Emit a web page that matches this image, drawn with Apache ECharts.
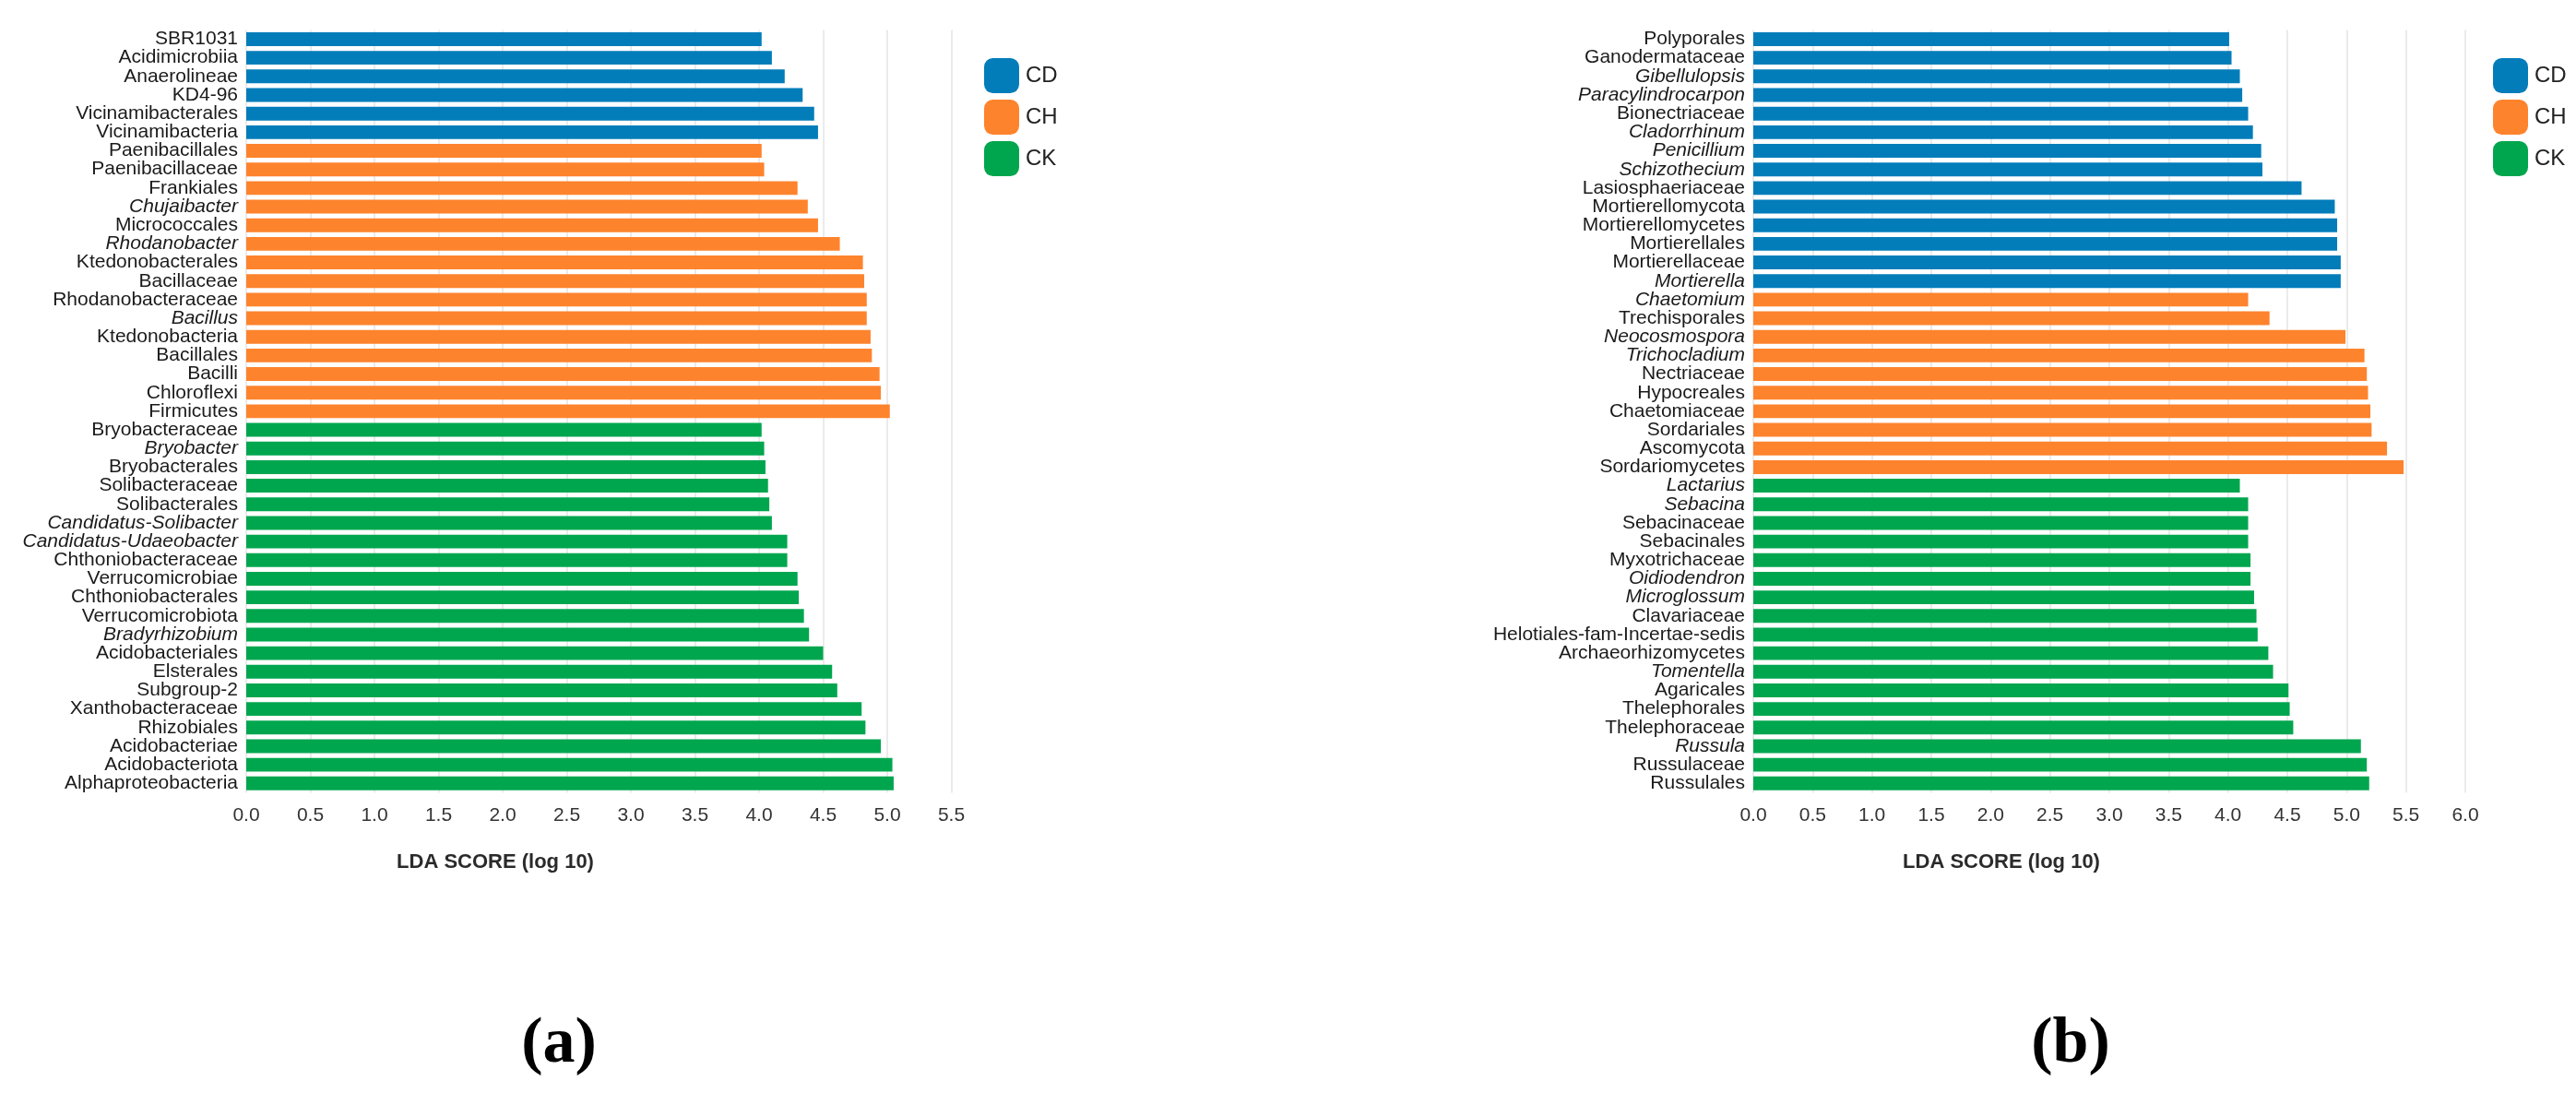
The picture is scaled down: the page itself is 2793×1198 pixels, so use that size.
<!DOCTYPE html>
<html>
<head>
<meta charset="utf-8">
<script src="https://cdn.jsdelivr.net/npm/echarts@6/dist/echarts.min.js"></script>
<style>
html,body{margin:0;padding:0;background:#fff;}
#chart{width:2793px;height:1198px;}
</style>
</head>
<body>
<div id="chart"></div>
<script>
// ---------- Panel (a) data ----------
const cdNamesA = ['SBR1031','Acidimicrobiia','Anaerolineae','KD4-96','Vicinamibacterales','Vicinamibacteria'];
const cdValsA  = [4.02,4.10,4.20,4.34,4.43,4.46];
const chNamesA = ['Paenibacillales','Paenibacillaceae','Frankiales','Chujaibacter','Micrococcales','Rhodanobacter','Ktedonobacterales','Bacillaceae','Rhodanobacteraceae','Bacillus','Ktedonobacteria','Bacillales','Bacilli','Chloroflexi','Firmicutes'];
const chValsA  = [4.02,4.04,4.30,4.38,4.46,4.63,4.81,4.82,4.84,4.84,4.87,4.88,4.94,4.95,5.02];
const ckNamesA = ['Bryobacteraceae','Bryobacter','Bryobacterales','Solibacteraceae','Solibacterales','Candidatus-Solibacter','Candidatus-Udaeobacter','Chthoniobacteraceae','Verrucomicrobiae','Chthoniobacterales','Verrucomicrobiota','Bradyrhizobium','Acidobacteriales','Elsterales','Subgroup-2','Xanthobacteraceae','Rhizobiales','Acidobacteriae','Acidobacteriota','Alphaproteobacteria'];
const ckValsA  = [4.02,4.04,4.05,4.07,4.08,4.10,4.22,4.22,4.30,4.31,4.35,4.39,4.50,4.57,4.61,4.80,4.83,4.95,5.04,5.05];
const italicA  = ['Chujaibacter','Rhodanobacter','Bacillus','Bryobacter','Candidatus-Solibacter','Candidatus-Udaeobacter','Bradyrhizobium'];

// ---------- Panel (b) data ----------
const cdNamesB = ['Polyporales','Ganodermataceae','Gibellulopsis','Paracylindrocarpon','Bionectriaceae','Cladorrhinum','Penicillium','Schizothecium','Lasiosphaeriaceae','Mortierellomycota','Mortierellomycetes','Mortierellales','Mortierellaceae','Mortierella'];
const cdValsB  = [4.01,4.03,4.10,4.12,4.17,4.21,4.28,4.29,4.62,4.90,4.92,4.92,4.95,4.95];
const chNamesB = ['Chaetomium','Trechisporales','Neocosmospora','Trichocladium','Nectriaceae','Hypocreales','Chaetomiaceae','Sordariales','Ascomycota','Sordariomycetes'];
const chValsB  = [4.17,4.35,4.99,5.15,5.17,5.18,5.20,5.21,5.34,5.48];
const ckNamesB = ['Lactarius','Sebacina','Sebacinaceae','Sebacinales','Myxotrichaceae','Oidiodendron','Microglossum','Clavariaceae','Helotiales-fam-Incertae-sedis','Archaeorhizomycetes','Tomentella','Agaricales','Thelephorales','Thelephoraceae','Russula','Russulaceae','Russulales'];
const ckValsB  = [4.10,4.17,4.17,4.17,4.19,4.19,4.22,4.24,4.25,4.34,4.38,4.51,4.52,4.55,5.12,5.17,5.19];
const italicB  = ['Gibellulopsis','Paracylindrocarpon','Cladorrhinum','Penicillium','Schizothecium','Mortierella','Chaetomium','Neocosmospora','Trichocladium','Lactarius','Sebacina','Oidiodendron','Microglossum','Tomentella','Russula'];

const groupNames = ['CD','CH','CK'];
const ticksA = [0,0.5,1,1.5,2,2.5,3,3.5,4,4.5,5,5.5];
const ticksB = [0,0.5,1,1.5,2,2.5,3,3.5,4,4.5,5,5.5,6];
const axisTitle = 'LDA SCORE (log 10)';
const panelLabels = ['(a)','(b)'];

const colors = {CD:'#037dba', CH:'#fe832d', CK:'#00a64e'};

function buildPanel(names, vals){
  const cats = [].concat(names[0], names[1], names[2]);
  const series = groupNames.map((g, gi) => {
    const data = [];
    names.forEach((arr, ai) => {
      arr.forEach((n, i) => { data.push(ai === gi ? vals[ai][i] : '-'); });
    });
    return {g, data};
  });
  return {cats, series};
}

const A = buildPanel([cdNamesA, chNamesA, ckNamesA], [cdValsA, chValsA, ckValsA]);
const B = buildPanel([cdNamesB, chNamesB, ckNamesB], [cdValsB, chValsB, ckValsB]);

const FONT = 'Liberation Sans, Arial, sans-serif';

function yAxisFor(cats, italics, gridIndex){
  return {
    type:'category', gridIndex, data:cats, inverse:true,
    axisLine:{show:false}, axisTick:{show:false}, splitLine:{show:false},
    axisLabel:{
      interval:0, margin:9, fontFamily:FONT, fontSize:21, color:'#1a1a1a',
      formatter: v => italics.indexOf(v) >= 0 ? '{i|' + v + '}' : '{n|' + v + '}',
      rich:{
        i:{fontStyle:'italic', fontFamily:FONT, fontSize:21, color:'#1a1a1a'},
        n:{fontFamily:FONT, fontSize:21, color:'#1a1a1a'}
      }
    }
  };
}
function xAxisFor(maxv, gridIndex){
  return {
    type:'value', gridIndex, min:0, max:maxv, interval:0.5,
    axisLine:{show:false}, axisTick:{show:false},
    splitLine:{show:true, lineStyle:{color:'#ebebeb', width:2}},
    axisLabel:{margin:14, fontFamily:FONT, fontSize:21, color:'#333',
      formatter: v => v.toFixed(1)}
  };
}

const series = [];
[A, B].forEach((P, pi) => {
  P.series.forEach(s => {
    series.push({
      name:s.g, type:'bar', xAxisIndex:pi, yAxisIndex:pi, stack:'p'+pi,
      data:s.data, barCategoryGap:'26%', itemStyle:{color:colors[s.g]},
      emphasis:{disabled:true}, animation:false
    });
  });
});

const legendCommon = {
  orient:'vertical', icon:'roundRect', itemWidth:38, itemHeight:38, itemGap:7,
  data:groupNames, selectedMode:false,
  textStyle:{fontFamily:FONT, fontSize:24, color:'#222', padding:[0,0,0,2]}
};

const chart = echarts.init(document.getElementById('chart'), null, {renderer:'canvas'});
chart.setOption({
  backgroundColor:'#fff',
  animation:false,
  grid:[
    {left:267, top:32.4, width:764.5, height:827},
    {left:1901, top:32.4, width:772, height:827}
  ],
  xAxis:[xAxisFor(ticksA[ticksA.length-1],0), xAxisFor(ticksB[ticksB.length-1],1)],
  yAxis:[yAxisFor(A.cats, italicA, 0), yAxisFor(B.cats, italicB, 1)],
  legend:[
    Object.assign({left:1062, top:58}, legendCommon),
    Object.assign({left:2698, top:58}, legendCommon)
  ],
  series,
  graphic:[
    {type:'text', x:537, y:935, style:{text:axisTitle, fontFamily:FONT, fontWeight:'bold', fontSize:22, fill:'#2a2a2a', textAlign:'center', textVerticalAlign:'middle'}},
    {type:'text', x:2170, y:935, style:{text:axisTitle, fontFamily:FONT, fontWeight:'bold', fontSize:22, fill:'#2a2a2a', textAlign:'center', textVerticalAlign:'middle'}},
    {type:'text', x:606, y:1133, style:{text:panelLabels[0], fontFamily:'Liberation Serif, Times New Roman, serif', fontWeight:'bold', fontSize:70, fill:'#000', textAlign:'center', textVerticalAlign:'middle'}},
    {type:'text', x:2245, y:1133, style:{text:panelLabels[1], fontFamily:'Liberation Serif, Times New Roman, serif', fontWeight:'bold', fontSize:70, fill:'#000', textAlign:'center', textVerticalAlign:'middle'}}
  ]
});
</script>
</body>
</html>
